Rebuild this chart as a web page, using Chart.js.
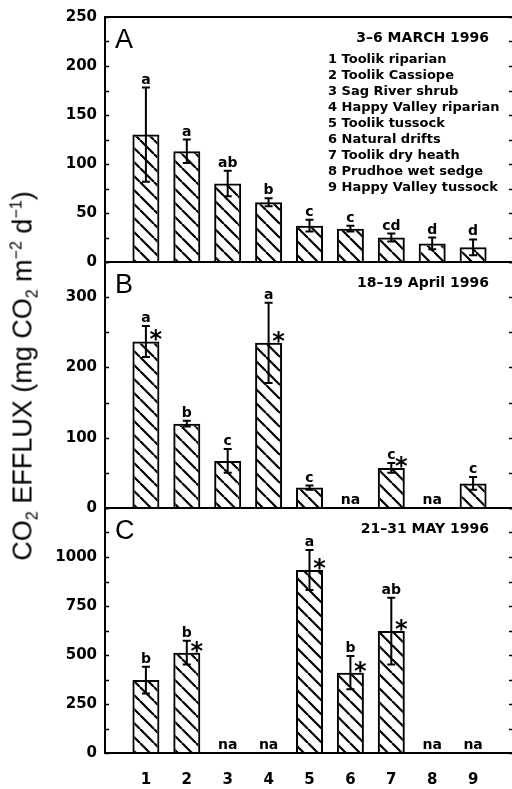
<!DOCTYPE html>
<html>
<head>
<meta charset="utf-8">
<script src="https://cdn.jsdelivr.net/npm/chart.js@4"></script>
<style>
  html, body { margin: 0; padding: 0; background: #fff; overflow: hidden; }
  #wrap { position: relative; width: 512px; height: 789px; overflow: hidden; }
  canvas { position: absolute; left: 0; }
  #ytitle {
    position: absolute; left: 23px; top: 376px;
    transform: translate(-50%, -50%) rotate(-90deg);
    font: 27px "Liberation Sans", Arial, sans-serif; color: #000;
    white-space: nowrap; line-height: 1;
  }
  #ytitle sub, #ytitle sup { font-size: 16px; line-height: 0; }
</style>
</head>
<body>
<div id="wrap">
  <canvas id="panelA" width="520" height="279" style="top:0px"></canvas>
  <canvas id="panelB" width="520" height="280" style="top:245px"></canvas>
  <canvas id="panelC" width="524" height="298" style="top:491px"></canvas>
  <div id="ytitle">CO<sub>2</sub> EFFLUX (mg CO<sub>2</sub> m<sup>−2</sup> d<sup>−1</sup>)</div>
</div>
<script>
// sites 1-9
var sites = [1, 2, 3, 4, 5, 6, 7, 8, 9];
var siteNames = ['Toolik riparian', 'Toolik Cassiope', 'Sag River shrub', 'Happy Valley riparian',
  'Toolik tussock', 'Natural drifts', 'Toolik dry heath', 'Prudhoe wet sedge', 'Happy Valley tussock'];

// A: 3-6 March 1996
var marchMean = [130, 113, 80, 61, 37, 34, 25, 19, 15];
var marchErr = [48, 12, 13, 4, 6, 3, 4, 6, 8];
var marchLetters = ['a', 'a', 'ab', 'b', 'c', 'c', 'cd', 'd', 'd'];
var marchStar = [0, 0, 0, 0, 0, 0, 0, 0, 0];
var marchTicks = [0, 50, 100, 150, 200, 250];

// B: 18-19 April 1996 (null = na)
var aprilMean = [237, 120, 67, 235, 29, null, 57, null, 35];
var aprilErr = [22, 4, 17, 57, 3, null, 7, null, 9];
var aprilLetters = ['a', 'b', 'c', 'a', 'c', '', 'c', '', 'c'];
var aprilStar = [1, 0, 0, 1, 0, 0, 1, 0, 0];
var aprilTicks = [0, 100, 200, 300];

// C: 21-31 May 1996
var mayMean = [372, 512, null, null, 934, 410, 622, null, null];
var mayErr = [68, 61, null, null, 102, 85, 170, null, null];
var mayLetters = ['b', 'b', '', '', 'a', 'b', 'ab', '', ''];
var mayStar = [0, 1, 0, 0, 1, 1, 1, 0, 0];
var mayTicks = [0, 250, 500, 750, 1000];

function makeHatch() {
  var s = 14;
  var c = document.createElement('canvas');
  c.width = s; c.height = s;
  var g = c.getContext('2d');
  g.strokeStyle = '#000';
  g.lineWidth = 2.2;
  g.beginPath();
  [-s, 0, s].forEach(function(k) {
    g.moveTo(k, 0);
    g.lineTo(k + s, s);
  });
  g.stroke();
  return g.createPattern(c, 'repeat');
}

var deco = {
  id: 'deco',
  afterDatasetsDraw: function(chart, args, o) {
    var ctx = chart.ctx, a = chart.chartArea;
    var x = chart.scales.x, y = chart.scales.y;
    ctx.save();
    ctx.fillStyle = '#000';
    ctx.strokeStyle = '#000';
    ctx.lineWidth = 2;
    ctx.textAlign = 'center';
    ctx.textBaseline = 'alphabetic';

    o.mean.forEach(function(m, i) {
      var px = x.getPixelForValue(sites[i]);
      ctx.font = 'bold 14px "DejaVu Sans"';
      if (m === null) {
        ctx.fillText('na', px, a.bottom - 4);
        return;
      }
      var top = y.getPixelForValue(m + o.err[i]);
      var bot = y.getPixelForValue(Math.max(0, m - o.err[i]));
      ctx.beginPath();
      ctx.moveTo(px, top); ctx.lineTo(px, bot);
      ctx.moveTo(px - 4, top); ctx.lineTo(px + 4, top);
      ctx.moveTo(px - 4, bot); ctx.lineTo(px + 4, bot);
      ctx.stroke();
      ctx.fillText(o.letters[i], px, top - 4);
      if (o.star[i]) {
        ctx.font = 'bold 24px "DejaVu Sans"';
        ctx.fillText('*', px + 10, y.getPixelForValue(m) - 8 + 14);
      }
    });

    // frame + inward ticks on both sides
    ctx.lineWidth = 2;
    ctx.strokeRect(a.left, a.top, a.right - a.left, a.bottom - a.top);
    ctx.lineWidth = 1.5;
    ctx.beginPath();
    y.ticks.forEach(function(t) {
      var py = Math.round(y.getPixelForValue(t.value)) + 0.5;
      ctx.moveTo(a.left, py); ctx.lineTo(a.left + 4, py);
      ctx.moveTo(a.right - 5, py); ctx.lineTo(a.right, py);
    });
    ctx.stroke();

    // panel letter and date
    ctx.textAlign = 'left';
    ctx.textBaseline = 'middle';
    ctx.font = '27px "Liberation Sans"';
    ctx.fillText(o.panel, a.left + 10, a.top + 24);
    ctx.textAlign = 'right';
    ctx.font = 'bold 14px "DejaVu Sans"';
    ctx.fillText(o.date, a.right - 25, a.top + 21);

    if (o.legend) {
      ctx.textAlign = 'left';
      ctx.font = 'bold 13px "DejaVu Sans"';
      siteNames.forEach(function(n, i) {
        ctx.fillText(sites[i] + ' ' + n, 328, a.top + 43 + i * 15.9);
      });
    }
    ctx.restore();
  }
};

function makePanel(id, mean, err, letters, star, ticks, maxY, step, panel, date, pad, showX, legend) {
  new Chart(document.getElementById(id), {
    type: 'bar',
    data: {
      datasets: [{
        data: sites.map(function(s, i) { return { x: s, y: mean[i] }; }),
        backgroundColor: makeHatch(),
        borderColor: '#000',
        borderWidth: 2,
        barPercentage: 0.66,
        categoryPercentage: 1
      }]
    },
    options: {
      responsive: false,
      animation: false,
      layout: { padding: pad },
      plugins: {
        legend: { display: false },
        tooltip: { enabled: false },
        deco: { mean: mean, err: err, letters: letters, star: star, panel: panel, date: date, legend: legend }
      },
      scales: {
        x: {
          type: 'linear', min: 0, max: 10, display: showX, offset: false,
          grid: { display: false }, border: { display: false },
          afterFit: function(s) { if (showX) s.height = 36; },
          ticks: {
            stepSize: 1, autoSkip: false, padding: 10, color: '#000',
            font: { family: 'DejaVu Sans', size: 15, weight: 'bold' },
            callback: function(v) { return sites.indexOf(v) >= 0 ? String(v) : ''; }
          }
        },
        y: {
          min: 0, max: maxY,
          grid: { display: false, drawTicks: false }, border: { display: false },
          afterFit: function(s) { s.width = 105; },
          ticks: {
            stepSize: step, autoSkip: false, padding: 8, color: '#000',
            font: { family: 'DejaVu Sans', size: 15, weight: 'bold' },
            callback: function(v) { return ticks.indexOf(v) >= 0 ? String(v) : ''; }
          }
        }
      }
    },
    plugins: [deco]
  });
}

makePanel('panelA', marchMean, marchErr, marchLetters, marchStar, marchTicks, 250, 25, 'A', '3–6 MARCH 1996',
  { top: 17, right: 6, bottom: 10, left: 0 }, false, true);
makePanel('panelB', aprilMean, aprilErr, aprilLetters, aprilStar, aprilTicks, 350, 50, 'B', '18–19 April 1996',
  { top: 10, right: 6, bottom: 10, left: 0 }, false, false);
makePanel('panelC', mayMean, mayErr, mayLetters, mayStar, mayTicks, 1250, 125, 'C', '21–31 MAY 1996',
  { top: 10, right: 6, bottom: 0, left: 0 }, true, false);
</script>
</body>
</html>
